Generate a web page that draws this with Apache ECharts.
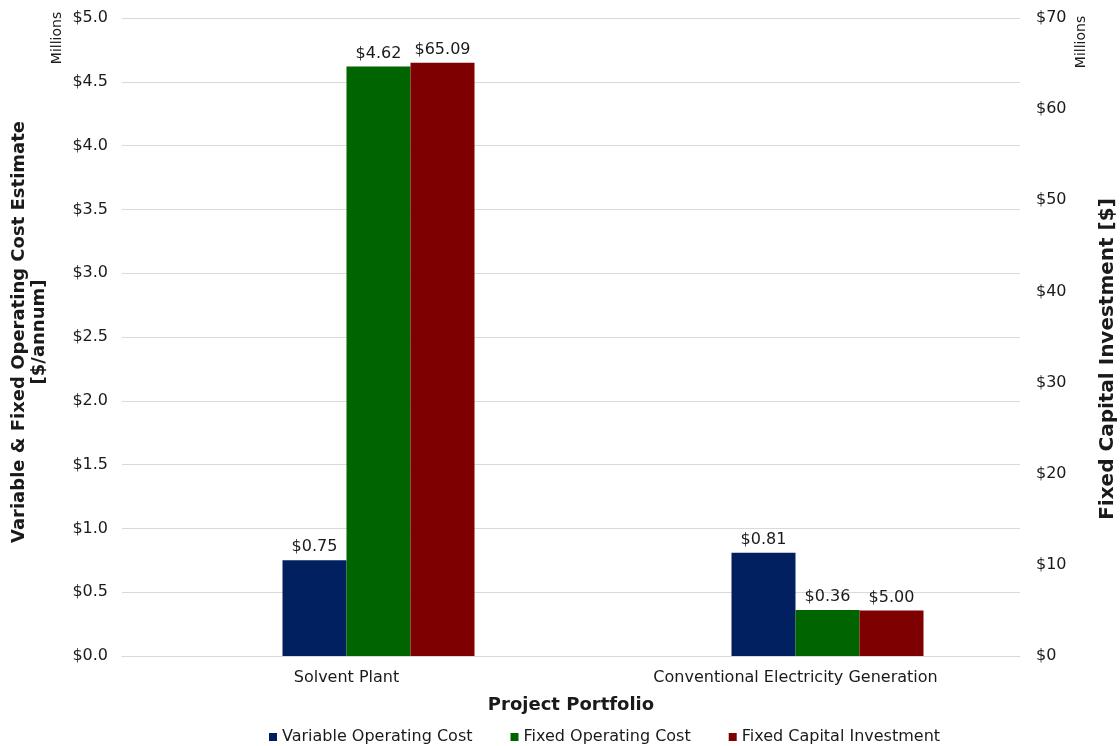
<!DOCTYPE html>
<html>
<head>
<meta charset="utf-8">
<script src="https://cdn.jsdelivr.net/npm/echarts@6/dist/echarts.min.js"></script>
<style>
  html, body { margin: 0; padding: 0; background: #fff; }
  #chart { width: 1120px; height: 746px; }
</style>
</head>
<body>
<div id="chart"></div>
<script>
// Project portfolio cost comparison
const categories = ['Solvent Plant', 'Conventional Electricity Generation'];
const variableOperatingCost = [0.75, 0.81];   // $ millions / annum
const fixedOperatingCost = [4.62, 0.36];      // $ millions / annum
const fixedCapitalInvestment = [65.09, 5.00]; // $ millions
const leftTicks = { min: 0, max: 5, interval: 0.5 };
const rightTicks = { min: 0, max: 70, interval: 10 };

const FONT = 'DejaVu Sans, Verdana, sans-serif';
const TEXT = '#1a1a1a';
const GRID = '#d9d9d9';

const chart = echarts.init(document.getElementById('chart'));

const barLabel = {
  show: true,
  position: 'top',
  distance: 5,
  fontFamily: FONT,
  fontSize: 16,
  color: TEXT,
  formatter: p => '$' + Number(p.value).toFixed(2)
};

chart.setOption({
  animation: false,
  backgroundColor: '#ffffff',
  textStyle: { fontFamily: FONT },
  grid: { left: 122, right: 100, top: 18, bottom: 90, containLabel: false, outerBoundsMode: 'none' },
  legend: {
    data: ['Variable Operating Cost', 'Fixed Operating Cost', 'Fixed Capital Investment'],
    left: 264,
    top: 724,
    icon: 'rect',
    itemWidth: 8,
    itemHeight: 8,
    itemGap: 38,
    textStyle: { fontFamily: FONT, fontSize: 16, color: TEXT }
  },
  xAxis: {
    type: 'category',
    data: categories,
    axisTick: { show: false },
    axisLine: { lineStyle: { color: GRID } },
    axisLabel: { fontFamily: FONT, fontSize: 16, color: TEXT, margin: 14 },
    name: 'Project Portfolio',
    nameLocation: 'middle',
    nameGap: 40,
    nameTextStyle: { fontFamily: FONT, fontSize: 18, fontWeight: 'bold', color: TEXT }
  },
  yAxis: [
    {
      type: 'value',
      min: leftTicks.min,
      max: leftTicks.max,
      interval: leftTicks.interval,
      axisLine: { show: false },
      axisTick: { show: false },
      splitLine: { lineStyle: { color: GRID } },
      axisLabel: {
        fontFamily: FONT, fontSize: 16, color: TEXT, margin: 14,
        formatter: v => '$' + v.toFixed(1)
      },
      name: 'Variable & Fixed Operating Cost Estimate\n[$/annum]',
      nameLocation: 'middle',
      nameRotate: 90,
      nameGap: 73,
      nameTextStyle: { fontFamily: FONT, fontSize: 18, fontWeight: 'bold', color: TEXT, lineHeight: 20, padding: [0, 0, 0, 10] }
    },
    {
      type: 'value',
      min: rightTicks.min,
      max: rightTicks.max,
      interval: rightTicks.interval,
      position: 'right',
      axisLine: { show: false },
      axisTick: { show: false },
      splitLine: { show: false },
      axisLabel: {
        fontFamily: FONT, fontSize: 16, color: TEXT, margin: 16,
        formatter: v => '$' + v
      }
    }
  ],
  graphic: [
    {
      type: 'text', x: 57, y: 38, rotation: Math.PI / 2,
      style: { text: 'Millions', fontFamily: FONT, fontSize: 14, fill: TEXT, align: 'center', verticalAlign: 'middle' }
    },
    {
      type: 'text', x: 1081, y: 42, rotation: Math.PI / 2,
      style: { text: 'Millions', fontFamily: FONT, fontSize: 14, fill: TEXT, align: 'center', verticalAlign: 'middle' }
    },
    {
      // secondary axis title
      type: 'text', x: 1108, y: 359, rotation: Math.PI / 2,
      style: { text: 'Fixed Capital Investment [$]', fontFamily: FONT, fontSize: 20, fontWeight: 'bold', fill: TEXT, align: 'center', verticalAlign: 'middle' }
    }
  ],
  series: [
    {
      // empty slot that keeps the group offset to the right of the category centre
      name: 'spacer', type: 'bar', yAxisIndex: 0, barWidth: 64, barGap: '0%',
      data: categories.map(() => '-'), silent: true
    },
    {
      name: 'Variable Operating Cost', type: 'bar', yAxisIndex: 0, barWidth: 64, barGap: '0%',
      itemStyle: { color: '#002060' }, label: barLabel, data: variableOperatingCost
    },
    {
      name: 'Fixed Operating Cost', type: 'bar', yAxisIndex: 0, barWidth: 64, barGap: '0%',
      itemStyle: { color: '#006400' }, label: barLabel, data: fixedOperatingCost
    },
    {
      name: 'Fixed Capital Investment', type: 'bar', yAxisIndex: 1, barWidth: 64, barGap: '0%',
      itemStyle: { color: '#7f0000' }, label: barLabel, data: fixedCapitalInvestment
    }
  ]
});
</script>
</body>
</html>
